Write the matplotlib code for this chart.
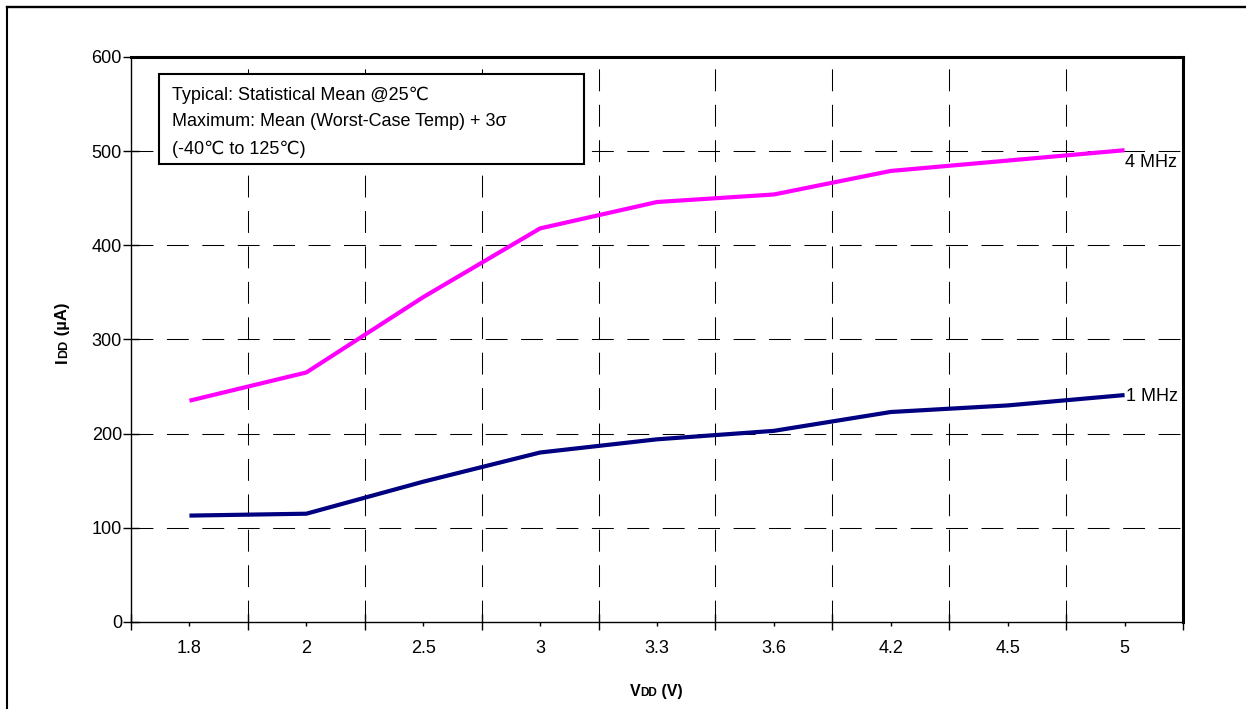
import numpy as np
import matplotlib
matplotlib.use('Agg')
import matplotlib.pyplot as plt
from matplotlib.lines import Line2D
from matplotlib.patches import Rectangle

# ---------------------------------------------------------------------------
# Data
# ---------------------------------------------------------------------------
vdd_labels = ['1.8', '2', '2.5', '3', '3.3', '3.6', '4.2', '4.5', '5']
idd_4mhz = [235, 265, 345, 418, 446, 454, 479, 490, 501]
idd_1mhz = [113, 115, 149, 180, 194, 203, 223, 230, 241]
series_names = ['4 MHz', '1 MHz']
y_ticks = [0, 100, 200, 300, 400, 500, 600]
note_lines = ['Typical: Statistical Mean @25\u2103',
              'Maximum: Mean (Worst-Case Temp) + 3\u03c3',
              '(-40\u2103 to 125\u2103)']

FONT = ['Liberation Sans', 'DejaVu Sans']
plt.rcParams['font.family'] = FONT
FS = 13

W, H = 1246, 709
fig = plt.figure(figsize=(W / 100, H / 100), dpi=100)
ax = fig.add_axes([131 / W, 1 - 622 / H, (1183 - 131) / W, (622 - 57) / H])

x = np.arange(len(vdd_labels))
ax.plot(x, idd_4mhz, color='#FF00FF', lw=3, solid_capstyle='butt', zorder=3)
ax.plot(x, idd_1mhz, color='#000080', lw=3, solid_capstyle='butt', zorder=3)

ax.set_xlim(-0.5, len(vdd_labels) - 0.5)
ax.set_ylim(0, 600)

# category labels at centres, tick marks at category boundaries
ax.set_xticks(x)
ax.set_xticklabels(vdd_labels, fontsize=FS)
ax.set_xticks(np.arange(-0.5, len(vdd_labels)), minor=True)
ax.tick_params(axis='x', which='major', direction='out', length=3, width=1, pad=10)
ax.tick_params(axis='x', which='minor', direction='inout', length=11, width=1)
ax.set_yticks(y_ticks)
ax.set_yticklabels([str(v) for v in y_ticks], fontsize=FS)
ax.tick_params(axis='y', direction='inout', length=11, width=1, pad=1)

# dashed grid
dash = (0, (21, 13))
for xb in np.arange(0.5, len(vdd_labels) - 1):
    ax.axvline(xb, color='black', lw=0.75, ls=dash, zorder=1)
for yv in y_ticks[1:-1]:
    ax.axhline(yv, color='black', lw=0.75, ls=dash, zorder=1)

for side in ['left', 'bottom']:
    ax.spines[side].set_linewidth(1)
for side in ['top', 'right']:
    ax.spines[side].set_linewidth(2.2)

# series labels at line ends
ax.annotate(series_names[0], (x[-1], idd_4mhz[-1]), xytext=(0, -9),
            textcoords='offset points', ha='left', va='center', fontsize=FS)
ax.annotate(series_names[1], (x[-1], idd_1mhz[-1]), xytext=(1, -1),
            textcoords='offset points', ha='left', va='center', fontsize=FS)

# note box (pixel layout -> figure fraction)
def fx(px):
    return px / W

def fy(py):
    return 1 - py / H

fig.add_artist(Rectangle((fx(159), fy(164)), fx(584) - fx(159), fy(74) - fy(164),
                         transform=fig.transFigure, fc='white', ec='black', lw=1.5,
                         zorder=5))
for i, line in enumerate(note_lines):
    fig.text(fx(172), fy(95 + 27 * i), line, fontsize=FS, va='center', ha='left',
             zorder=6)

# outer frame
fig.add_artist(Line2D([fx(7), fx(W + 5)], [fy(7), fy(7)], transform=fig.transFigure,
                      color='black', lw=1.7))
fig.add_artist(Line2D([fx(7), fx(7)], [fy(7), fy(H + 5)], transform=fig.transFigure,
                      color='black', lw=1.5))

# axis labels with small-cap "DD"
fig.canvas.draw()
renderer = fig.canvas.get_renderer()


def label_pieces(x0, y0, parts, rotation=0):
    """Place text pieces one after another (px coords), bold."""
    pos = 0.0
    for txt, size in parts:
        if rotation == 0:
            t = fig.text(fx(x0 + pos), fy(y0), txt, fontsize=size, fontweight='bold',
                         ha='left', va='baseline')
            pos += t.get_window_extent(renderer).width
        else:
            t = fig.text(fx(x0), fy(y0 - pos), txt, fontsize=size, fontweight='bold',
                         ha='left', va='baseline', rotation=90, rotation_mode='anchor')
            pos += t.get_window_extent(renderer).height


label_pieces(630, 696, [('V', 11.5), ('DD', 8.5), (' (V)', 11.5)])
label_pieces(67, 363, [('I', 12), ('DD', 9), (' (\u00b5A)', 12)], rotation=90)

fig.savefig('out.png', dpi=100)
